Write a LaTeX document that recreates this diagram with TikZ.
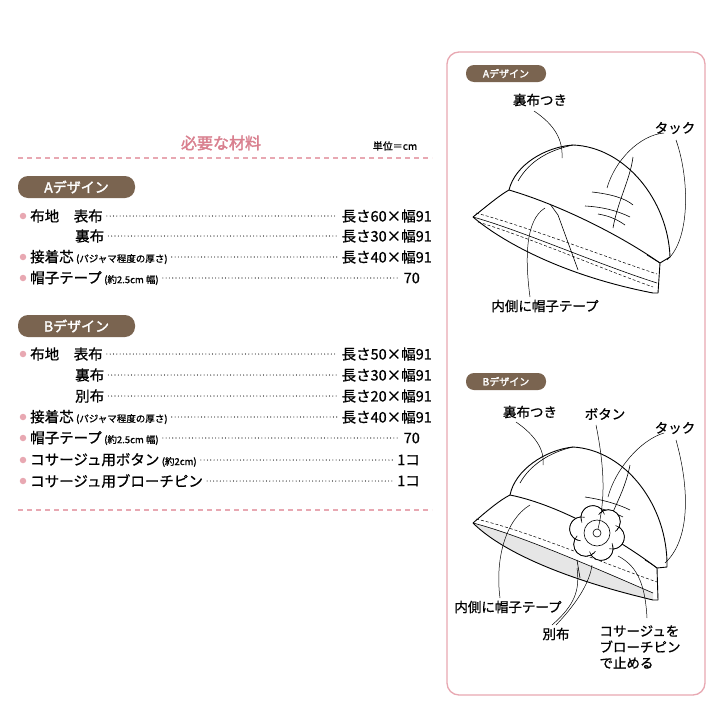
\documentclass[tikz,border=0pt]{standalone}
\usepackage{fontspec}
\usetikzlibrary{calc}
\setmainfont{Noto Sans CJK JP}[FakeBold=0.8]
\newfontfamily\jpb{Noto Sans CJK JP}[FakeBold=2]
\begin{document}
\definecolor{pk}{HTML}{D9808F}
\definecolor{pkl}{HTML}{E8A8B2}
\definecolor{br}{HTML}{7A6450}
\definecolor{gy}{HTML}{E6E6E6}
\begin{tikzpicture}[x=1pt,y=-1pt,
  txt/.style={anchor=west,inner sep=0pt,font=\fontsize{14.5}{16}\selectfont},
  val/.style={anchor=east,inner sep=0pt,font=\fontsize{14.5}{16}\selectfont},
  lead/.style={line width=1.1pt,dash pattern=on 0pt off 3.3pt,line cap=round},
  bul/.style={circle,fill=pkl,inner sep=0pt,minimum size=6.5pt},
  badge/.style={fill=br,rounded corners=10pt,text=white,inner sep=0pt,font=\jpb\fontsize{14}{16}\selectfont},
  sbadge/.style={fill=br,rounded corners=8pt,text=white,inner sep=0pt,font=\jpb\fontsize{10}{11}\selectfont},
  lbl/.style={inner sep=1pt,font=\fontsize{13.5}{16}\selectfont},
  hat/.style={line width=0.9pt,line join=round},
  thin/.style={line width=0.6pt},
  dsh/.style={line width=0.5pt,dash pattern=on 3pt off 2pt},
  ll/.style={line width=0.5pt}]
\newcommand\sm[1]{\,{\fontsize{9.5}{10}\selectfont #1}}
\useasboundingbox (0,0) rectangle (720,720);
\fill[white] (0,0) rectangle (720,720);
% left header
\node[inner sep=0pt,text=pk,font=\jpb\fontsize{16}{18}\selectfont] (title) at (221,143) {必要な材料};
\node[inner sep=0pt,font=\fontsize{10}{11}\selectfont] (unit) at (395,146) {単位＝cm};
\draw[pkl,line width=1.2pt,dash pattern=on 5pt off 4pt] (18,158) -- (432,158);
\draw[pkl,line width=1.2pt,dash pattern=on 5pt off 4pt] (18,510) -- (432,510);
% A
\node[badge,minimum width=117pt,minimum height=22pt] (ba) at (76.5,187) {Aデザイン};
\foreach \y in {216,257,278} \node[bul] at (23,\y) {};
\node[txt] (a1) at (30,216) {布地　表布};
\node[txt] (a2) at (75,236) {裏布};
\node[txt] (a3) at (30,257) {接着芯\sm{(パジャマ程度の厚さ)}};
\node[txt] (a4) at (30,278) {帽子テープ\sm{(約2.5cm 幅)}};
\node[val] (va1) at (432,216) {長さ60×幅91};
\node[val] (va2) at (432,236) {長さ30×幅91};
\node[val] (va3) at (432,257) {長さ40×幅91};
\node[val] (va4) at (420,278) {70};
\foreach \a in {1,2,3,4} \draw[lead] ([xshift=4pt]a\a.east) -- ([xshift=-4pt]va\a.west);
% B
\node[badge,minimum width=117pt,minimum height=22pt] (bb) at (76.5,326) {Bデザイン};
\foreach \y in {354,417,438,460,481} \node[bul] at (23,\y) {};
\node[txt] (b1) at (30,354) {布地　表布};
\node[txt] (b2) at (75,375) {裏布};
\node[txt] (b3) at (75,396) {別布};
\node[txt] (b4) at (30,417) {接着芯\sm{(パジャマ程度の厚さ)}};
\node[txt] (b5) at (30,438) {帽子テープ\sm{(約2.5cm 幅)}};
\node[txt] (b6) at (30,460) {コサージュ用ボタン\sm{(約2cm)}};
\node[txt] (b7) at (30,481) {コサージュ用ブローチピン};
\node[val] (vb1) at (432,354) {長さ50×幅91};
\node[val] (vb2) at (432,375) {長さ30×幅91};
\node[val] (vb3) at (432,396) {長さ20×幅91};
\node[val] (vb4) at (432,417) {長さ40×幅91};
\node[val] (vb5) at (420,438) {70};
\node[val] (vb6) at (420,460) {1コ};
\node[val] (vb7) at (420,481) {1コ};
\foreach \a in {1,...,7} \draw[lead] ([xshift=4pt]b\a.east) -- ([xshift=-4pt]vb\a.west);
% right panel
\draw[pkl,line width=1.3pt,rounded corners=12pt] (447,52) rectangle (705,695);
% ---------- Hat A
\node[sbadge,minimum width=80pt,minimum height=17pt] (ha) at (506,73.5) {Aデザイン};
\draw[hat] (509,190) .. controls (515,165) and (545,147) .. (573,145)
  .. controls (625,147) and (668,200) .. (670,257) -- (660,263) -- (658,293);
\draw[hat] (473,217) .. controls (488,205) and (500,195) .. (509,190)
  .. controls (560,205) and (620,235) .. (660,263);
\draw[hat] (473,217) .. controls (500,240) and (560,275) .. (653,293) -- (658,293);
\draw[thin] (473,217) .. controls (520,230) and (600,265) .. (657,283);
\draw[dsh] (478,222) .. controls (525,236) and (600,268) .. (653,287);
\draw[dsh] (476,213) .. controls (525,226) and (600,255) .. (657,274);
\draw[thin] (550,204) -- (558,215) -- (578,270);
\draw[thin] (633,157) .. controls (630,180) and (618,200) .. (613,228);
\draw[thin] (592,192) .. controls (610,194) and (625,198) .. (633,205);
\draw[thin] (585,206) .. controls (605,207) and (620,212) .. (630,217);
\draw[thin] (598,214) .. controls (610,216) and (618,220) .. (625,225);
\draw[thin] (647,255) .. controls (652,258) and (655,260) .. (660,263);
\draw[thin] (518,181) .. controls (530,160) and (550,150) .. (573,145);
\node[lbl] (la1) at (540,100) {裏布つき};
\node[lbl] (la2) at (675,128) {タック};
\node[lbl] (la3) at (545,306) {内側に帽子テープ};
\draw[ll] (534,111) .. controls (555,125) and (563,140) .. (562,158);
\draw[ll] (664,133) .. controls (640,135) and (615,160) .. (607,188);
\draw[ll] (676,140) .. controls (690,180) and (690,240) .. (667,260);
\draw[ll] (530,297) .. controls (525,260) and (525,220) .. (545,208);
% ---------- Hat B
\node[sbadge,minimum width=80pt,minimum height=17pt] (hb) at (506,381.5) {Bデザイン};
\fill[gy] (473,523) .. controls (520,535) and (600,570) .. (653,593) -- (653,600)
  .. controls (560,578) and (500,550) .. (473,523);
\draw[hat] (510,495) .. controls (515,470) and (545,450) .. (573,447)
  .. controls (625,450) and (668,505) .. (667,567) -- (657,568) -- (658,600);
\draw[hat] (473,523) .. controls (488,510) and (500,500) .. (510,495)
  .. controls (560,505) and (620,540) .. (657,568);
\draw[hat] (473,523) .. controls (500,550) and (560,578) .. (653,600) -- (658,600);
\draw[thin] (473,523) .. controls (520,535) and (600,570) .. (653,593);
\draw[dsh] (476,519) .. controls (525,530) and (600,562) .. (657,582);
\draw[thin] (577,560) -- (580,578);
\draw[thin] (520,483) .. controls (530,465) and (550,452) .. (573,447);
\draw[thin] (630,465) .. controls (625,490) and (615,505) .. (610,520);
\draw[thin] (585,497) .. controls (605,500) and (620,505) .. (630,510);
\draw[thin] (593,507) .. controls (605,509) and (615,513) .. (623,517);
\draw[thin] (645,560) .. controls (650,563) and (653,565) .. (657,568);
% flower
\coordinate (fc) at (597,533);
\foreach \a in {15,75,...,315} \draw[thin,fill=white] ($(fc)+(\a:16)$) circle (12);
\fill[white] (fc) circle (18);
\foreach \a in {15,75,...,315} \draw[thin] ($(fc)+(\a:16)+(\a+90:12)$) arc[start angle=\a+90,end angle=\a-90,radius=12];
\draw[thin,fill=white] (fc) circle (13);
\draw[thin] (fc) circle (4);
\node[lbl] (lb1) at (530,412) {裏布つき};
\node[lbl] (lb2) at (605,414) {ボタン};
\node[lbl] (lb3) at (675,428) {タック};
\node[lbl] (lb4) at (508,607) {内側に帽子テープ};
\node[lbl] (lb5) at (556,634) {別布};
\node[lbl,align=left] (lb6) at (640,647) {コサージュを\\ブローチピン\\で止める};
\draw[ll] (516,422) .. controls (535,435) and (545,450) .. (543,465);
\draw[ll] (596,425) .. controls (605,470) and (605,500) .. (598,529);
\draw[ll] (664,433) .. controls (640,440) and (615,470) .. (608,497);
\draw[ll] (676,440) .. controls (690,490) and (690,540) .. (665,563);
\draw[ll] (500,598) .. controls (495,560) and (505,520) .. (530,505);
\draw[ll] (552,625) .. controls (575,605) and (580,590) .. (577,568);
\draw[ll] (556,625) .. controls (580,600) and (590,580) .. (592,565);
\draw[ll] (647,618) .. controls (645,580) and (635,565) .. (618,556);
\end{tikzpicture}
\end{document}
